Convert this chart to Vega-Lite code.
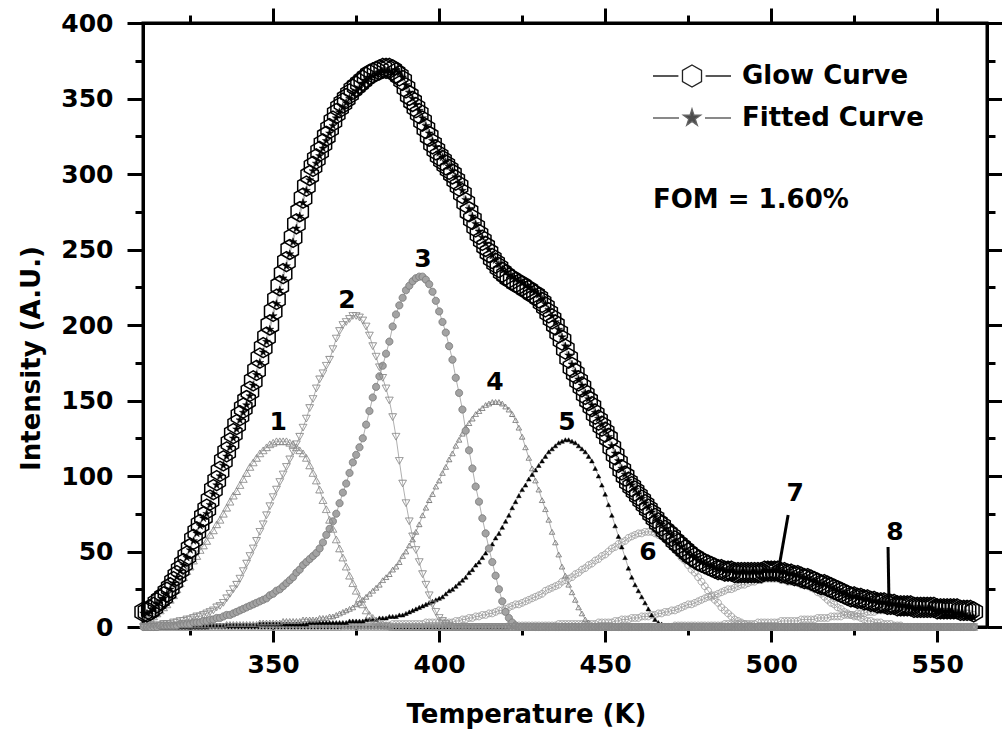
{
"$schema":"https://vega.github.io/schema/vega-lite/v6.json",
"width":844,"height":604,
"autosize":{"type":"none"},
"padding":{"left":143,"top":23,"right":15,"bottom":105},
"background":"white",
"config":{"view":{"stroke":"black","strokeWidth":3},"font":"DejaVu Sans"},
"datasets":{"tl":[
{"T":311,"g":10,"f":9,"p1":4,"p2":0,"p3":0,"p4":0,"p5":0,"p6":0,"p7":0,"p8":0},
{"T":312,"g":10,"f":9,"p1":5,"p2":0,"p3":0,"p4":0,"p5":0,"p6":0,"p7":0,"p8":0},
{"T":313,"g":11,"f":10,"p1":6,"p2":1,"p3":0,"p4":0,"p5":0,"p6":0,"p7":0,"p8":0},
{"T":314,"g":13,"f":12,"p1":7,"p2":1,"p3":0,"p4":0,"p5":0,"p6":0,"p7":0,"p8":0},
{"T":315,"g":16,"f":15,"p1":9,"p2":1,"p3":0,"p4":0,"p5":0,"p6":0,"p7":0,"p8":0},
{"T":316,"g":18,"f":17,"p1":11,"p2":1,"p3":1,"p4":0,"p5":0,"p6":0,"p7":0,"p8":0},
{"T":317,"g":20,"f":19,"p1":13,"p2":2,"p3":1,"p4":0,"p5":0,"p6":0,"p7":0,"p8":0},
{"T":318,"g":23,"f":22,"p1":15,"p2":2,"p3":1,"p4":0,"p5":0,"p6":0,"p7":0,"p8":0},
{"T":319,"g":26,"f":25,"p1":18,"p2":2,"p3":1,"p4":0,"p5":0,"p6":0,"p7":0,"p8":0},
{"T":320,"g":30,"f":29,"p1":21,"p2":3,"p3":1,"p4":0,"p5":0,"p6":0,"p7":0,"p8":0},
{"T":321,"g":34,"f":33,"p1":25,"p2":3,"p3":1,"p4":1,"p5":0,"p6":0,"p7":0,"p8":0},
{"T":322,"g":38,"f":37,"p1":29,"p2":4,"p3":2,"p4":1,"p5":0,"p6":0,"p7":0,"p8":0},
{"T":323,"g":42,"f":41,"p1":33,"p2":4,"p3":2,"p4":1,"p5":0,"p6":0,"p7":0,"p8":0},
{"T":324,"g":47,"f":46,"p1":37,"p2":5,"p3":2,"p4":1,"p5":0,"p6":0,"p7":0,"p8":0},
{"T":325,"g":52,"f":51,"p1":40,"p2":5,"p3":2,"p4":1,"p5":0,"p6":0,"p7":0,"p8":0},
{"T":326,"g":58,"f":57,"p1":44,"p2":6,"p3":3,"p4":1,"p5":0,"p6":0,"p7":0,"p8":0},
{"T":327,"g":63,"f":62,"p1":47,"p2":7,"p3":3,"p4":1,"p5":0,"p6":0,"p7":0,"p8":0},
{"T":328,"g":68,"f":67,"p1":51,"p2":7,"p3":3,"p4":1,"p5":0,"p6":0,"p7":0,"p8":0},
{"T":329,"g":73,"f":72,"p1":54,"p2":8,"p3":4,"p4":1,"p5":0,"p6":0,"p7":0,"p8":0},
{"T":330,"g":78,"f":75,"p1":57,"p2":9,"p3":4,"p4":1,"p5":0,"p6":0,"p7":0,"p8":0},
{"T":331,"g":84,"f":81,"p1":61,"p2":10,"p3":5,"p4":1,"p5":1,"p6":0,"p7":0,"p8":0},
{"T":332,"g":91,"f":88,"p1":64,"p2":11,"p3":5,"p4":1,"p5":1,"p6":0,"p7":0,"p8":0},
{"T":333,"g":97,"f":94,"p1":68,"p2":13,"p3":6,"p4":1,"p5":1,"p6":0,"p7":0,"p8":0},
{"T":334,"g":103,"f":100,"p1":71,"p2":14,"p3":6,"p4":1,"p5":1,"p6":0,"p7":0,"p8":0},
{"T":335,"g":110,"f":107,"p1":75,"p2":16,"p3":7,"p4":1,"p5":1,"p6":0,"p7":0,"p8":0},
{"T":336,"g":116,"f":113,"p1":79,"p2":19,"p3":8,"p4":2,"p5":1,"p6":0,"p7":0,"p8":0},
{"T":337,"g":122,"f":119,"p1":83,"p2":22,"p3":8,"p4":2,"p5":1,"p6":0,"p7":0,"p8":0},
{"T":338,"g":128,"f":125,"p1":87,"p2":25,"p3":9,"p4":2,"p5":1,"p6":0,"p7":0,"p8":0},
{"T":339,"g":134,"f":131,"p1":90,"p2":28,"p3":10,"p4":2,"p5":1,"p6":0,"p7":0,"p8":0},
{"T":340,"g":140,"f":137,"p1":94,"p2":32,"p3":11,"p4":2,"p5":1,"p6":0,"p7":0,"p8":0},
{"T":341,"g":145,"f":142,"p1":98,"p2":37,"p3":12,"p4":2,"p5":1,"p6":0,"p7":0,"p8":0},
{"T":342,"g":150,"f":147,"p1":102,"p2":42,"p3":13,"p4":2,"p5":1,"p6":0,"p7":0,"p8":0},
{"T":343,"g":156,"f":153,"p1":106,"p2":47,"p3":14,"p4":2,"p5":1,"p6":0,"p7":0,"p8":0},
{"T":344,"g":163,"f":160,"p1":109,"p2":52,"p3":15,"p4":2,"p5":1,"p6":0,"p7":0,"p8":0},
{"T":345,"g":170,"f":167,"p1":112,"p2":57,"p3":16,"p4":2,"p5":1,"p6":0,"p7":0,"p8":0},
{"T":346,"g":178,"f":175,"p1":115,"p2":63,"p3":17,"p4":3,"p5":2,"p6":0,"p7":0,"p8":0},
{"T":347,"g":185,"f":182,"p1":117,"p2":68,"p3":18,"p4":3,"p5":2,"p6":0,"p7":0,"p8":0},
{"T":348,"g":192,"f":189,"p1":119,"p2":74,"p3":19,"p4":3,"p5":2,"p6":0,"p7":0,"p8":0},
{"T":349,"g":200,"f":197,"p1":121,"p2":80,"p3":21,"p4":3,"p5":2,"p6":0,"p7":0,"p8":0},
{"T":350,"g":209,"f":206,"p1":122,"p2":86,"p3":22,"p4":3,"p5":2,"p6":0,"p7":0,"p8":0},
{"T":351,"g":217,"f":214,"p1":123,"p2":91,"p3":24,"p4":3,"p5":2,"p6":0,"p7":0,"p8":0},
{"T":352,"g":226,"f":223,"p1":123,"p2":96,"p3":25,"p4":3,"p5":2,"p6":0,"p7":0,"p8":0},
{"T":353,"g":234,"f":231,"p1":123,"p2":101,"p3":27,"p4":4,"p5":2,"p6":0,"p7":0,"p8":0},
{"T":354,"g":242,"f":239,"p1":123,"p2":106,"p3":29,"p4":4,"p5":2,"p6":0,"p7":0,"p8":0},
{"T":355,"g":250,"f":247,"p1":122,"p2":111,"p3":31,"p4":4,"p5":2,"p6":0,"p7":0,"p8":0},
{"T":356,"g":258,"f":255,"p1":121,"p2":116,"p3":33,"p4":4,"p5":2,"p6":0,"p7":0,"p8":0},
{"T":357,"g":267,"f":264,"p1":119,"p2":121,"p3":36,"p4":4,"p5":2,"p6":0,"p7":0,"p8":0},
{"T":358,"g":275,"f":272,"p1":117,"p2":126,"p3":38,"p4":4,"p5":2,"p6":0,"p7":0,"p8":0},
{"T":359,"g":284,"f":281,"p1":115,"p2":132,"p3":41,"p4":5,"p5":2,"p6":0,"p7":0,"p8":0},
{"T":360,"g":292,"f":289,"p1":112,"p2":138,"p3":43,"p4":5,"p5":2,"p6":0,"p7":0,"p8":0},
{"T":361,"g":299,"f":296,"p1":107,"p2":145,"p3":45,"p4":5,"p5":3,"p6":0,"p7":0,"p8":0},
{"T":362,"g":305,"f":302,"p1":102,"p2":151,"p3":47,"p4":5,"p5":3,"p6":0,"p7":0,"p8":0},
{"T":363,"g":310,"f":307,"p1":97,"p2":158,"p3":49,"p4":5,"p5":3,"p6":0,"p7":0,"p8":0},
{"T":364,"g":315,"f":312,"p1":91,"p2":164,"p3":52,"p4":6,"p5":3,"p6":0,"p7":0,"p8":0},
{"T":365,"g":320,"f":317,"p1":84,"p2":168,"p3":56,"p4":6,"p5":3,"p6":0,"p7":0,"p8":0},
{"T":366,"g":325,"f":322,"p1":78,"p2":173,"p3":61,"p4":6,"p5":3,"p6":0,"p7":0,"p8":0},
{"T":367,"g":330,"f":327,"p1":71,"p2":177,"p3":65,"p4":7,"p5":3,"p6":0,"p7":0,"p8":0},
{"T":368,"g":335,"f":332,"p1":65,"p2":184,"p3":70,"p4":7,"p5":3,"p6":0,"p7":0,"p8":0},
{"T":369,"g":340,"f":337,"p1":58,"p2":191,"p3":75,"p4":8,"p5":3,"p6":0,"p7":0,"p8":0},
{"T":370,"g":344,"f":341,"p1":52,"p2":196,"p3":82,"p4":9,"p5":3,"p6":0,"p7":0,"p8":0},
{"T":371,"g":347,"f":344,"p1":46,"p2":200,"p3":89,"p4":10,"p5":3,"p6":1,"p7":0,"p8":0},
{"T":372,"g":350,"f":347,"p1":40,"p2":202,"p3":95,"p4":11,"p5":3,"p6":1,"p7":0,"p8":0},
{"T":373,"g":353,"f":350,"p1":34,"p2":204,"p3":102,"p4":12,"p5":4,"p6":1,"p7":0,"p8":0},
{"T":374,"g":356,"f":353,"p1":29,"p2":206,"p3":109,"p4":13,"p5":4,"p6":1,"p7":0,"p8":0},
{"T":375,"g":358,"f":355,"p1":24,"p2":206,"p3":114,"p4":15,"p5":4,"p6":1,"p7":0,"p8":0},
{"T":376,"g":360,"f":357,"p1":19,"p2":205,"p3":119,"p4":16,"p5":4,"p6":1,"p7":0,"p8":0},
{"T":377,"g":362,"f":360,"p1":15,"p2":203,"p3":125,"p4":18,"p5":4,"p6":1,"p7":0,"p8":0},
{"T":378,"g":364,"f":362,"p1":11,"p2":199,"p3":134,"p4":20,"p5":5,"p6":1,"p7":0,"p8":0},
{"T":379,"g":366,"f":364,"p1":8,"p2":193,"p3":143,"p4":22,"p5":5,"p6":1,"p7":0,"p8":0},
{"T":380,"g":367,"f":365,"p1":6,"p2":186,"p3":152,"p4":24,"p5":5,"p6":1,"p7":0,"p8":0},
{"T":381,"g":368,"f":366,"p1":4,"p2":179,"p3":159,"p4":26,"p5":5,"p6":1,"p7":0,"p8":0},
{"T":382,"g":369,"f":367,"p1":3,"p2":172,"p3":166,"p4":28,"p5":6,"p6":1,"p7":0,"p8":0},
{"T":383,"g":370,"f":368,"p1":2,"p2":165,"p3":173,"p4":31,"p5":6,"p6":1,"p7":0,"p8":0},
{"T":384,"g":370,"f":368,"p1":1,"p2":158,"p3":181,"p4":33,"p5":6,"p6":1,"p7":0,"p8":0},
{"T":385,"g":370,"f":368,"p1":1,"p2":150,"p3":189,"p4":35,"p5":7,"p6":1,"p7":0,"p8":0},
{"T":386,"g":369,"f":367,"p1":0,"p2":139,"p3":199,"p4":38,"p5":7,"p6":2,"p7":0,"p8":0},
{"T":387,"g":367,"f":369,"p1":0,"p2":126,"p3":207,"p4":40,"p5":7,"p6":2,"p7":0,"p8":0},
{"T":388,"g":365,"f":367,"p1":0,"p2":110,"p3":213,"p4":43,"p5":8,"p6":2,"p7":0,"p8":0},
{"T":389,"g":362,"f":364,"p1":0,"p2":95,"p3":218,"p4":47,"p5":8,"p6":2,"p7":0,"p8":0},
{"T":390,"g":357,"f":359,"p1":0,"p2":82,"p3":223,"p4":50,"p5":9,"p6":2,"p7":0,"p8":0},
{"T":391,"g":352,"f":354,"p1":0,"p2":70,"p3":226,"p4":54,"p5":10,"p6":2,"p7":0,"p8":0},
{"T":392,"g":348,"f":350,"p1":0,"p2":60,"p3":229,"p4":58,"p5":11,"p6":2,"p7":0,"p8":0},
{"T":393,"g":344,"f":346,"p1":0,"p2":51,"p3":231,"p4":63,"p5":12,"p6":2,"p7":0,"p8":0},
{"T":394,"g":340,"f":342,"p1":0,"p2":43,"p3":232,"p4":68,"p5":13,"p6":2,"p7":0,"p8":0},
{"T":395,"g":335,"f":337,"p1":0,"p2":35,"p3":232,"p4":74,"p5":14,"p6":2,"p7":0,"p8":0},
{"T":396,"g":330,"f":332,"p1":0,"p2":28,"p3":230,"p4":79,"p5":15,"p6":3,"p7":0,"p8":0},
{"T":397,"g":325,"f":327,"p1":0,"p2":21,"p3":227,"p4":84,"p5":16,"p6":3,"p7":0,"p8":0},
{"T":398,"g":320,"f":322,"p1":0,"p2":15,"p3":222,"p4":88,"p5":17,"p6":3,"p7":0,"p8":0},
{"T":399,"g":316,"f":318,"p1":0,"p2":10,"p3":216,"p4":93,"p5":18,"p6":3,"p7":0,"p8":0},
{"T":400,"g":312,"f":314,"p1":0,"p2":6,"p3":209,"p4":97,"p5":19,"p6":3,"p7":0,"p8":0},
{"T":401,"g":309,"f":311,"p1":0,"p2":4,"p3":202,"p4":102,"p5":20,"p6":3,"p7":0,"p8":0},
{"T":402,"g":306,"f":308,"p1":0,"p2":2,"p3":195,"p4":106,"p5":22,"p6":3,"p7":0,"p8":0},
{"T":403,"g":303,"f":305,"p1":0,"p2":1,"p3":186,"p4":111,"p5":24,"p6":3,"p7":0,"p8":0},
{"T":404,"g":300,"f":302,"p1":0,"p2":0,"p3":177,"p4":115,"p5":25,"p6":3,"p7":0,"p8":0},
{"T":405,"g":296,"f":298,"p1":0,"p2":0,"p3":165,"p4":120,"p5":27,"p6":4,"p7":0,"p8":0},
{"T":406,"g":292,"f":294,"p1":0,"p2":0,"p3":155,"p4":124,"p5":29,"p6":4,"p7":0,"p8":0},
{"T":407,"g":287,"f":289,"p1":0,"p2":0,"p3":144,"p4":128,"p5":31,"p6":5,"p7":0,"p8":0},
{"T":408,"g":281,"f":283,"p1":0,"p2":0,"p3":130,"p4":132,"p5":33,"p6":5,"p7":0,"p8":0},
{"T":409,"g":275,"f":277,"p1":0,"p2":0,"p3":117,"p4":135,"p5":36,"p6":6,"p7":0,"p8":0},
{"T":410,"g":270,"f":272,"p1":0,"p2":0,"p3":105,"p4":138,"p5":38,"p6":6,"p7":0,"p8":0},
{"T":411,"g":265,"f":267,"p1":0,"p2":0,"p3":93,"p4":141,"p5":41,"p6":7,"p7":0,"p8":0},
{"T":412,"g":260,"f":262,"p1":0,"p2":0,"p3":83,"p4":143,"p5":43,"p6":7,"p7":0,"p8":0},
{"T":413,"g":256,"f":258,"p1":0,"p2":0,"p3":72,"p4":145,"p5":46,"p6":8,"p7":0,"p8":0},
{"T":414,"g":252,"f":254,"p1":0,"p2":0,"p3":62,"p4":147,"p5":49,"p6":8,"p7":0,"p8":0},
{"T":415,"g":248,"f":250,"p1":0,"p2":0,"p3":52,"p4":148,"p5":52,"p6":9,"p7":0,"p8":0},
{"T":416,"g":244,"f":246,"p1":0,"p2":0,"p3":43,"p4":149,"p5":55,"p6":9,"p7":0,"p8":0},
{"T":417,"g":241,"f":243,"p1":0,"p2":0,"p3":34,"p4":149,"p5":59,"p6":10,"p7":0,"p8":0},
{"T":418,"g":238,"f":240,"p1":0,"p2":0,"p3":25,"p4":149,"p5":62,"p6":11,"p7":0,"p8":0},
{"T":419,"g":235,"f":237,"p1":0,"p2":0,"p3":17,"p4":148,"p5":66,"p6":11,"p7":0,"p8":0},
{"T":420,"g":233,"f":235,"p1":0,"p2":0,"p3":10,"p4":146,"p5":70,"p6":12,"p7":0,"p8":0},
{"T":421,"g":231,"f":233,"p1":0,"p2":0,"p3":6,"p4":144,"p5":74,"p6":13,"p7":1,"p8":0},
{"T":422,"g":230,"f":232,"p1":0,"p2":0,"p3":3,"p4":141,"p5":79,"p6":14,"p7":1,"p8":0},
{"T":423,"g":228,"f":230,"p1":0,"p2":0,"p3":1,"p4":137,"p5":83,"p6":15,"p7":1,"p8":0},
{"T":424,"g":227,"f":229,"p1":0,"p2":0,"p3":0,"p4":132,"p5":87,"p6":15,"p7":1,"p8":0},
{"T":425,"g":226,"f":228,"p1":0,"p2":0,"p3":0,"p4":126,"p5":91,"p6":16,"p7":1,"p8":0},
{"T":426,"g":224,"f":226,"p1":0,"p2":0,"p3":0,"p4":119,"p5":94,"p6":17,"p7":1,"p8":0},
{"T":427,"g":223,"f":225,"p1":0,"p2":0,"p3":0,"p4":112,"p5":98,"p6":18,"p7":1,"p8":0},
{"T":428,"g":221,"f":223,"p1":0,"p2":0,"p3":0,"p4":105,"p5":101,"p6":19,"p7":1,"p8":0},
{"T":429,"g":220,"f":222,"p1":0,"p2":0,"p3":0,"p4":97,"p5":104,"p6":20,"p7":1,"p8":0},
{"T":430,"g":218,"f":220,"p1":0,"p2":0,"p3":0,"p4":91,"p5":107,"p6":21,"p7":1,"p8":0},
{"T":431,"g":215,"f":217,"p1":0,"p2":0,"p3":0,"p4":84,"p5":110,"p6":22,"p7":1,"p8":0},
{"T":432,"g":212,"f":214,"p1":0,"p2":0,"p3":0,"p4":78,"p5":113,"p6":24,"p7":1,"p8":0},
{"T":433,"g":208,"f":210,"p1":0,"p2":0,"p3":0,"p4":71,"p5":116,"p6":25,"p7":1,"p8":0},
{"T":434,"g":204,"f":206,"p1":0,"p2":0,"p3":0,"p4":63,"p5":118,"p6":26,"p7":1,"p8":0},
{"T":435,"g":200,"f":202,"p1":0,"p2":0,"p3":0,"p4":56,"p5":120,"p6":27,"p7":1,"p8":0},
{"T":436,"g":195,"f":197,"p1":0,"p2":0,"p3":0,"p4":48,"p5":122,"p6":28,"p7":2,"p8":0},
{"T":437,"g":190,"f":192,"p1":0,"p2":0,"p3":0,"p4":40,"p5":123,"p6":30,"p7":2,"p8":0},
{"T":438,"g":184,"f":186,"p1":0,"p2":0,"p3":0,"p4":34,"p5":124,"p6":31,"p7":2,"p8":0},
{"T":439,"g":178,"f":180,"p1":0,"p2":0,"p3":0,"p4":28,"p5":124,"p6":32,"p7":2,"p8":0},
{"T":440,"g":172,"f":174,"p1":0,"p2":0,"p3":0,"p4":23,"p5":123,"p6":33,"p7":2,"p8":0},
{"T":441,"g":168,"f":169,"p1":0,"p2":0,"p3":0,"p4":18,"p5":122,"p6":35,"p7":2,"p8":0},
{"T":442,"g":163,"f":164,"p1":0,"p2":0,"p3":0,"p4":13,"p5":120,"p6":36,"p7":2,"p8":0},
{"T":443,"g":159,"f":160,"p1":0,"p2":0,"p3":0,"p4":9,"p5":118,"p6":38,"p7":2,"p8":0},
{"T":444,"g":154,"f":155,"p1":0,"p2":0,"p3":0,"p4":5,"p5":116,"p6":39,"p7":2,"p8":0},
{"T":445,"g":150,"f":151,"p1":0,"p2":0,"p3":0,"p4":3,"p5":113,"p6":41,"p7":2,"p8":0},
{"T":446,"g":146,"f":147,"p1":0,"p2":0,"p3":0,"p4":1,"p5":110,"p6":42,"p7":2,"p8":0},
{"T":447,"g":141,"f":142,"p1":0,"p2":0,"p3":0,"p4":0,"p5":105,"p6":44,"p7":2,"p8":0},
{"T":448,"g":137,"f":138,"p1":0,"p2":0,"p3":0,"p4":0,"p5":100,"p6":45,"p7":3,"p8":0},
{"T":449,"g":133,"f":134,"p1":0,"p2":0,"p3":0,"p4":0,"p5":94,"p6":47,"p7":3,"p8":0},
{"T":450,"g":129,"f":130,"p1":0,"p2":0,"p3":0,"p4":0,"p5":88,"p6":48,"p7":3,"p8":0},
{"T":451,"g":125,"f":126,"p1":0,"p2":0,"p3":0,"p4":0,"p5":81,"p6":50,"p7":3,"p8":0},
{"T":452,"g":119,"f":120,"p1":0,"p2":0,"p3":0,"p4":0,"p5":74,"p6":52,"p7":3,"p8":0},
{"T":453,"g":114,"f":115,"p1":0,"p2":0,"p3":0,"p4":0,"p5":67,"p6":53,"p7":4,"p8":0},
{"T":454,"g":109,"f":110,"p1":0,"p2":0,"p3":0,"p4":0,"p5":60,"p6":55,"p7":4,"p8":0},
{"T":455,"g":104,"f":105,"p1":0,"p2":0,"p3":0,"p4":0,"p5":53,"p6":56,"p7":5,"p8":0},
{"T":456,"g":100,"f":101,"p1":0,"p2":0,"p3":0,"p4":0,"p5":46,"p6":57,"p7":5,"p8":0},
{"T":457,"g":96,"f":97,"p1":0,"p2":0,"p3":0,"p4":0,"p5":39,"p6":59,"p7":5,"p8":0},
{"T":458,"g":93,"f":94,"p1":0,"p2":0,"p3":0,"p4":0,"p5":33,"p6":60,"p7":6,"p8":0},
{"T":459,"g":90,"f":91,"p1":0,"p2":0,"p3":0,"p4":0,"p5":28,"p6":61,"p7":6,"p8":0},
{"T":460,"g":87,"f":88,"p1":0,"p2":0,"p3":0,"p4":0,"p5":24,"p6":62,"p7":6,"p8":0},
{"T":461,"g":84,"f":85,"p1":0,"p2":0,"p3":0,"p4":0,"p5":20,"p6":62,"p7":7,"p8":0},
{"T":462,"g":81,"f":82,"p1":0,"p2":0,"p3":0,"p4":0,"p5":16,"p6":63,"p7":7,"p8":0},
{"T":463,"g":78,"f":79,"p1":0,"p2":0,"p3":0,"p4":0,"p5":12,"p6":63,"p7":7,"p8":0},
{"T":464,"g":75,"f":76,"p1":0,"p2":0,"p3":0,"p4":0,"p5":8,"p6":63,"p7":8,"p8":0},
{"T":465,"g":72,"f":73,"p1":0,"p2":0,"p3":0,"p4":0,"p5":5,"p6":62,"p7":8,"p8":0},
{"T":466,"g":69,"f":70,"p1":0,"p2":0,"p3":0,"p4":0,"p5":3,"p6":61,"p7":9,"p8":0},
{"T":467,"g":67,"f":68,"p1":0,"p2":0,"p3":0,"p4":0,"p5":2,"p6":60,"p7":9,"p8":0},
{"T":468,"g":64,"f":65,"p1":0,"p2":0,"p3":0,"p4":0,"p5":1,"p6":58,"p7":10,"p8":0},
{"T":469,"g":62,"f":63,"p1":0,"p2":0,"p3":0,"p4":0,"p5":0,"p6":56,"p7":10,"p8":0},
{"T":470,"g":60,"f":61,"p1":0,"p2":0,"p3":0,"p4":0,"p5":0,"p6":54,"p7":11,"p8":0},
{"T":471,"g":57,"f":57,"p1":0,"p2":0,"p3":0,"p4":0,"p5":0,"p6":51,"p7":11,"p8":1},
{"T":472,"g":55,"f":55,"p1":0,"p2":0,"p3":0,"p4":0,"p5":0,"p6":49,"p7":12,"p8":1},
{"T":473,"g":53,"f":53,"p1":0,"p2":0,"p3":0,"p4":0,"p5":0,"p6":46,"p7":13,"p8":1},
{"T":474,"g":51,"f":51,"p1":0,"p2":0,"p3":0,"p4":0,"p5":0,"p6":44,"p7":14,"p8":1},
{"T":475,"g":49,"f":49,"p1":0,"p2":0,"p3":0,"p4":0,"p5":0,"p6":41,"p7":15,"p8":1},
{"T":476,"g":47,"f":47,"p1":0,"p2":0,"p3":0,"p4":0,"p5":0,"p6":38,"p7":15,"p8":1},
{"T":477,"g":46,"f":46,"p1":0,"p2":0,"p3":0,"p4":0,"p5":0,"p6":36,"p7":16,"p8":1},
{"T":478,"g":44,"f":44,"p1":0,"p2":0,"p3":0,"p4":0,"p5":0,"p6":33,"p7":17,"p8":1},
{"T":479,"g":43,"f":43,"p1":0,"p2":0,"p3":0,"p4":0,"p5":0,"p6":30,"p7":18,"p8":1},
{"T":480,"g":42,"f":42,"p1":0,"p2":0,"p3":0,"p4":0,"p5":0,"p6":27,"p7":19,"p8":1},
{"T":481,"g":41,"f":41,"p1":0,"p2":0,"p3":0,"p4":0,"p5":0,"p6":24,"p7":20,"p8":1},
{"T":482,"g":40,"f":40,"p1":0,"p2":0,"p3":0,"p4":0,"p5":0,"p6":21,"p7":20,"p8":1},
{"T":483,"g":39,"f":39,"p1":0,"p2":0,"p3":0,"p4":0,"p5":0,"p6":18,"p7":21,"p8":1},
{"T":484,"g":38,"f":38,"p1":0,"p2":0,"p3":0,"p4":0,"p5":0,"p6":16,"p7":22,"p8":1},
{"T":485,"g":38,"f":38,"p1":0,"p2":0,"p3":0,"p4":0,"p5":0,"p6":13,"p7":23,"p8":1},
{"T":486,"g":37,"f":37,"p1":0,"p2":0,"p3":0,"p4":0,"p5":0,"p6":11,"p7":24,"p8":2},
{"T":487,"g":37,"f":37,"p1":0,"p2":0,"p3":0,"p4":0,"p5":0,"p6":9,"p7":25,"p8":2},
{"T":488,"g":37,"f":37,"p1":0,"p2":0,"p3":0,"p4":0,"p5":0,"p6":7,"p7":25,"p8":2},
{"T":489,"g":36,"f":36,"p1":0,"p2":0,"p3":0,"p4":0,"p5":0,"p6":5,"p7":26,"p8":2},
{"T":490,"g":36,"f":36,"p1":0,"p2":0,"p3":0,"p4":0,"p5":0,"p6":4,"p7":27,"p8":2},
{"T":491,"g":36,"f":36,"p1":0,"p2":0,"p3":0,"p4":0,"p5":0,"p6":3,"p7":28,"p8":2},
{"T":492,"g":36,"f":36,"p1":0,"p2":0,"p3":0,"p4":0,"p5":0,"p6":2,"p7":28,"p8":2},
{"T":493,"g":36,"f":36,"p1":0,"p2":0,"p3":0,"p4":0,"p5":0,"p6":1,"p7":29,"p8":2},
{"T":494,"g":36,"f":36,"p1":0,"p2":0,"p3":0,"p4":0,"p5":0,"p6":1,"p7":30,"p8":2},
{"T":495,"g":36,"f":36,"p1":0,"p2":0,"p3":0,"p4":0,"p5":0,"p6":0,"p7":30,"p8":2},
{"T":496,"g":36,"f":36,"p1":0,"p2":0,"p3":0,"p4":0,"p5":0,"p6":0,"p7":31,"p8":3},
{"T":497,"g":36,"f":36,"p1":0,"p2":0,"p3":0,"p4":0,"p5":0,"p6":0,"p7":31,"p8":3},
{"T":498,"g":37,"f":37,"p1":0,"p2":0,"p3":0,"p4":0,"p5":0,"p6":0,"p7":32,"p8":3},
{"T":499,"g":37,"f":37,"p1":0,"p2":0,"p3":0,"p4":0,"p5":0,"p6":0,"p7":32,"p8":3},
{"T":500,"g":37,"f":37,"p1":0,"p2":0,"p3":0,"p4":0,"p5":0,"p6":0,"p7":32,"p8":3},
{"T":501,"g":37,"f":37,"p1":0,"p2":0,"p3":0,"p4":0,"p5":0,"p6":0,"p7":32,"p8":3},
{"T":502,"g":37,"f":37,"p1":0,"p2":0,"p3":0,"p4":0,"p5":0,"p6":0,"p7":32,"p8":3},
{"T":503,"g":36,"f":36,"p1":0,"p2":0,"p3":0,"p4":0,"p5":0,"p6":0,"p7":31,"p8":4},
{"T":504,"g":36,"f":36,"p1":0,"p2":0,"p3":0,"p4":0,"p5":0,"p6":0,"p7":31,"p8":4},
{"T":505,"g":35,"f":35,"p1":0,"p2":0,"p3":0,"p4":0,"p5":0,"p6":0,"p7":30,"p8":4},
{"T":506,"g":35,"f":35,"p1":0,"p2":0,"p3":0,"p4":0,"p5":0,"p6":0,"p7":30,"p8":4},
{"T":507,"g":34,"f":34,"p1":0,"p2":0,"p3":0,"p4":0,"p5":0,"p6":0,"p7":30,"p8":4},
{"T":508,"g":34,"f":34,"p1":0,"p2":0,"p3":0,"p4":0,"p5":0,"p6":0,"p7":29,"p8":4},
{"T":509,"g":33,"f":33,"p1":0,"p2":0,"p3":0,"p4":0,"p5":0,"p6":0,"p7":28,"p8":5},
{"T":510,"g":32,"f":32,"p1":0,"p2":0,"p3":0,"p4":0,"p5":0,"p6":0,"p7":28,"p8":5},
{"T":511,"g":32,"f":32,"p1":0,"p2":0,"p3":0,"p4":0,"p5":0,"p6":0,"p7":27,"p8":5},
{"T":512,"g":31,"f":31,"p1":0,"p2":0,"p3":0,"p4":0,"p5":0,"p6":0,"p7":26,"p8":5},
{"T":513,"g":30,"f":30,"p1":0,"p2":0,"p3":0,"p4":0,"p5":0,"p6":0,"p7":25,"p8":5},
{"T":514,"g":29,"f":29,"p1":0,"p2":0,"p3":0,"p4":0,"p5":0,"p6":0,"p7":23,"p8":6},
{"T":515,"g":28,"f":28,"p1":0,"p2":0,"p3":0,"p4":0,"p5":0,"p6":0,"p7":22,"p8":6},
{"T":516,"g":28,"f":28,"p1":0,"p2":0,"p3":0,"p4":0,"p5":0,"p6":0,"p7":20,"p8":6},
{"T":517,"g":27,"f":27,"p1":0,"p2":0,"p3":0,"p4":0,"p5":0,"p6":0,"p7":18,"p8":6},
{"T":518,"g":26,"f":26,"p1":0,"p2":0,"p3":0,"p4":0,"p5":0,"p6":0,"p7":16,"p8":7},
{"T":519,"g":25,"f":25,"p1":0,"p2":0,"p3":0,"p4":0,"p5":0,"p6":0,"p7":15,"p8":7},
{"T":520,"g":24,"f":24,"p1":0,"p2":0,"p3":0,"p4":0,"p5":0,"p6":0,"p7":13,"p8":7},
{"T":521,"g":23,"f":23,"p1":0,"p2":0,"p3":0,"p4":0,"p5":0,"p6":0,"p7":12,"p8":7},
{"T":522,"g":22,"f":22,"p1":0,"p2":0,"p3":0,"p4":0,"p5":0,"p6":0,"p7":10,"p8":8},
{"T":523,"g":21,"f":21,"p1":0,"p2":0,"p3":0,"p4":0,"p5":0,"p6":0,"p7":9,"p8":8},
{"T":524,"g":20,"f":20,"p1":0,"p2":0,"p3":0,"p4":0,"p5":0,"p6":0,"p7":8,"p8":8},
{"T":525,"g":20,"f":20,"p1":0,"p2":0,"p3":0,"p4":0,"p5":0,"p6":0,"p7":7,"p8":8},
{"T":526,"g":19,"f":19,"p1":0,"p2":0,"p3":0,"p4":0,"p5":0,"p6":0,"p7":7,"p8":9},
{"T":527,"g":19,"f":19,"p1":0,"p2":0,"p3":0,"p4":0,"p5":0,"p6":0,"p7":6,"p8":9},
{"T":528,"g":18,"f":18,"p1":0,"p2":0,"p3":0,"p4":0,"p5":0,"p6":0,"p7":5,"p8":9},
{"T":529,"g":18,"f":18,"p1":0,"p2":0,"p3":0,"p4":0,"p5":0,"p6":0,"p7":4,"p8":10},
{"T":530,"g":17,"f":17,"p1":0,"p2":0,"p3":0,"p4":0,"p5":0,"p6":0,"p7":4,"p8":10},
{"T":531,"g":17,"f":17,"p1":0,"p2":0,"p3":0,"p4":0,"p5":0,"p6":0,"p7":3,"p8":10},
{"T":532,"g":16,"f":16,"p1":0,"p2":0,"p3":0,"p4":0,"p5":0,"p6":0,"p7":3,"p8":11},
{"T":533,"g":16,"f":16,"p1":0,"p2":0,"p3":0,"p4":0,"p5":0,"p6":0,"p7":3,"p8":11},
{"T":534,"g":16,"f":16,"p1":0,"p2":0,"p3":0,"p4":0,"p5":0,"p6":0,"p7":2,"p8":11},
{"T":535,"g":15,"f":15,"p1":0,"p2":0,"p3":0,"p4":0,"p5":0,"p6":0,"p7":2,"p8":11},
{"T":536,"g":15,"f":15,"p1":0,"p2":0,"p3":0,"p4":0,"p5":0,"p6":0,"p7":2,"p8":12},
{"T":537,"g":15,"f":15,"p1":0,"p2":0,"p3":0,"p4":0,"p5":0,"p6":0,"p7":1,"p8":12},
{"T":538,"g":14,"f":14,"p1":0,"p2":0,"p3":0,"p4":0,"p5":0,"p6":0,"p7":1,"p8":12},
{"T":539,"g":14,"f":14,"p1":0,"p2":0,"p3":0,"p4":0,"p5":0,"p6":0,"p7":1,"p8":12},
{"T":540,"g":14,"f":14,"p1":0,"p2":0,"p3":0,"p4":0,"p5":0,"p6":0,"p7":0,"p8":12},
{"T":541,"g":14,"f":13,"p1":0,"p2":0,"p3":0,"p4":0,"p5":0,"p6":0,"p7":0,"p8":12},
{"T":542,"g":14,"f":13,"p1":0,"p2":0,"p3":0,"p4":0,"p5":0,"p6":0,"p7":0,"p8":12},
{"T":543,"g":13,"f":12,"p1":0,"p2":0,"p3":0,"p4":0,"p5":0,"p6":0,"p7":0,"p8":12},
{"T":544,"g":13,"f":12,"p1":0,"p2":0,"p3":0,"p4":0,"p5":0,"p6":0,"p7":0,"p8":12},
{"T":545,"g":13,"f":12,"p1":0,"p2":0,"p3":0,"p4":0,"p5":0,"p6":0,"p7":0,"p8":11},
{"T":546,"g":13,"f":12,"p1":0,"p2":0,"p3":0,"p4":0,"p5":0,"p6":0,"p7":0,"p8":11},
{"T":547,"g":13,"f":12,"p1":0,"p2":0,"p3":0,"p4":0,"p5":0,"p6":0,"p7":0,"p8":11},
{"T":548,"g":13,"f":12,"p1":0,"p2":0,"p3":0,"p4":0,"p5":0,"p6":0,"p7":0,"p8":11},
{"T":549,"g":13,"f":11,"p1":0,"p2":0,"p3":0,"p4":0,"p5":0,"p6":0,"p7":0,"p8":11},
{"T":550,"g":12,"f":10,"p1":0,"p2":0,"p3":0,"p4":0,"p5":0,"p6":0,"p7":0,"p8":11},
{"T":551,"g":12,"f":10,"p1":0,"p2":0,"p3":0,"p4":0,"p5":0,"p6":0,"p7":0,"p8":10},
{"T":552,"g":12,"f":10,"p1":0,"p2":0,"p3":0,"p4":0,"p5":0,"p6":0,"p7":0,"p8":10},
{"T":553,"g":12,"f":10,"p1":0,"p2":0,"p3":0,"p4":0,"p5":0,"p6":0,"p7":0,"p8":10},
{"T":554,"g":12,"f":10,"p1":0,"p2":0,"p3":0,"p4":0,"p5":0,"p6":0,"p7":0,"p8":10},
{"T":555,"g":12,"f":9,"p1":0,"p2":0,"p3":0,"p4":0,"p5":0,"p6":0,"p7":0,"p8":10},
{"T":556,"g":12,"f":9,"p1":0,"p2":0,"p3":0,"p4":0,"p5":0,"p6":0,"p7":0,"p8":9},
{"T":557,"g":11,"f":8,"p1":0,"p2":0,"p3":0,"p4":0,"p5":0,"p6":0,"p7":0,"p8":9},
{"T":558,"g":11,"f":8,"p1":0,"p2":0,"p3":0,"p4":0,"p5":0,"p6":0,"p7":0,"p8":9},
{"T":559,"g":11,"f":7,"p1":0,"p2":0,"p3":0,"p4":0,"p5":0,"p6":0,"p7":0,"p8":9},
{"T":560,"g":11,"f":7,"p1":0,"p2":0,"p3":0,"p4":0,"p5":0,"p6":0,"p7":0,"p8":8},
{"T":561,"g":10,"f":6,"p1":0,"p2":0,"p3":0,"p4":0,"p5":0,"p6":0,"p7":0,"p8":8}
]},
"layer":[
{"data":{"name":"tl"},
 "transform":[{"fold":["g","f","p1","p2","p3","p4","p5","p6","p7","p8"],"as":["k","v"]}],
 "mark":{"type":"line","stroke":"#9a9a9a","strokeWidth":0.8},
 "encoding":{
  "x":{"field":"T","type":"quantitative","scale":{"domain":[310.8,565],"nice":false,"zero":false},
   "axis":{"orient":"top","values":[325,350,375,400,425,450,475,500,525,550],"labels":false,"title":null,"grid":false,
    "tickSize":{"condition":{"test":"datum.value % 50 !== 0","value":8},"value":15},"tickWidth":3,"tickColor":"black","domainColor":"black","domainWidth":3}},
  "y":{"field":"v","type":"quantitative","scale":{"domain":[0,400],"nice":false,"zero":true},
   "axis":{"orient":"right","values":[0,25,50,75,100,125,150,175,200,225,250,275,300,325,350,375,400],"labels":false,"title":null,"grid":false,
    "tickSize":{"condition":{"test":"datum.value % 50 !== 0","value":8},"value":15},"tickWidth":3,"tickColor":"black","domainColor":"black","domainWidth":3}},
  "detail":{"field":"k","type":"nominal"}
 }},
{"data":{"name":"tl"},
 "transform":[{"fold":["g","f","p1","p2","p3","p4","p5","p6","p7","p8"],"as":["k","v"]}],
 "mark":{"type":"point","filled":true},
 "encoding":{
  "x":{"field":"T","type":"quantitative","scale":{"domain":[310.8,565],"nice":false,"zero":false},
   "axis":{"orient":"bottom","values":[325,350,375,400,425,450,475,500,525,550],"labelExpr":"datum.value % 50 === 0 ? datum.label : ''","grid":false,
    "title":"Temperature (K)","titleFont":"DejaVu Sans","titleFontSize":26,"titleFontWeight":"bold","titleColor":"black","titleX":383,"titleY":95,"titleBaseline":"alphabetic","titleAlign":"center",
    "labelFont":"DejaVu Sans","labelFontSize":25,"labelFontWeight":"bold","labelColor":"black","labelPadding":10,"labelFlush":false,"labelOverlap":false,
    "tickSize":{"condition":{"test":"datum.value % 50 !== 0","value":8},"value":15},"tickWidth":3,"tickColor":"black","domainColor":"black","domainWidth":3}},
  "y":{"field":"v","type":"quantitative","scale":{"domain":[0,400],"nice":false,"zero":true},
   "axis":{"orient":"left","values":[0,25,50,75,100,125,150,175,200,225,250,275,300,325,350,375,400],"labelExpr":"datum.value % 50 === 0 ? datum.label : ''","grid":false,
    "title":"Intensity (A.U.)","titleFont":"DejaVu Sans","titleFontSize":26,"titleFontWeight":"bold","titleColor":"black","titleX":-99,"titleY":335,"titleAngle":270,"titleBaseline":"bottom","titleAlign":"center",
    "labelFont":"DejaVu Sans","labelFontSize":25,"labelFontWeight":"bold","labelColor":"black","labelPadding":14,"labelFlush":false,"labelOverlap":false,
    "tickSize":{"condition":{"test":"datum.value % 50 !== 0","value":8},"value":16},"tickWidth":3,"tickColor":"black","domainColor":"black","domainWidth":3}},
  "shape":{"field":"k","type":"nominal","legend":null,
   "scale":{"domain":["g","f","p1","p2","p3","p4","p5","p6","p7","p8"],
    "range":["M0,-1L0.866,-0.5L0.866,0.5L0,1L-0.866,0.5L-0.866,-0.5Z","M0,-1L0.223,-0.307L0.951,-0.309L0.361,0.117L0.588,0.809L0,0.38L-0.588,0.809L-0.361,0.117L-0.951,-0.309L-0.223,-0.307Z","triangle-up","triangle-down","circle","triangle-up","triangle-up","circle","circle","circle"]}},
  "fill":{"field":"k","type":"nominal","legend":null,
   "scale":{"domain":["g","f","p1","p2","p3","p4","p5","p6","p7","p8"],
    "range":["transparent","black","transparent","transparent","#a3a3a3","transparent","black","transparent","transparent","transparent"]}},
  "stroke":{"field":"k","type":"nominal","legend":null,
   "scale":{"domain":["g","f","p1","p2","p3","p4","p5","p6","p7","p8"],
    "range":["black","black","#8a8a8a","#8a8a8a","#7c7c7c","#7a7a7a","black","#9c9c9c","#9c9c9c","#9c9c9c"]}},
  "size":{"field":"k","type":"nominal","legend":null,
   "scale":{"type":"ordinal","domain":["f","g","p1","p2","p3","p4","p5","p6","p7","p8"],
    "range":[70,400,60,60,50,30,22,45,45,45]}},
  "strokeWidth":{"field":"k","type":"nominal","legend":null,
   "scale":{"type":"ordinal","domain":["f","g","p1","p2","p3","p4","p5","p6","p7","p8"],
    "range":[0.5,1.5,1,1,1,1,0.5,1,1,1]}},
  "opacity":{"field":"k","type":"nominal",
   "scale":{"type":"ordinal","domain":["p1","g","f","p2","p3","p4","p5","p6","p7","p8"],"range":[1,1,1,1,1,1,1,1,1,1]},
   "legend":{"values":["g"],"labelExpr":"'Glow Curve'","title":null,"orient":"none","legendX":528,"legendY":32,
    "symbolType":"M-1.95,0L-0.68,0M0.68,0L1.95,0M0,-0.55L0.476,-0.275L0.476,0.275L0,0.55L-0.476,0.275L-0.476,-0.275Z",
    "symbolSize":1600,"symbolFillColor":"transparent","symbolStrokeColor":"#222222","symbolStrokeWidth":1.3,
    "labelOffset":29,"padding":0,"labelLimit":400,"labelFont":"DejaVu Sans","labelFontSize":26,"labelFontWeight":"bold","labelColor":"black","labelBaseline":"middle"}},
  "strokeDash":{"datum":"Fitted Curve",
   "scale":{"domain":["Fitted Curve"],"range":[[1,0]]},
   "legend":{"title":null,"orient":"none","legendX":528,"legendY":74,
    "symbolType":"M-1.95,0L-0.65,0M0.65,0L1.95,0M0,-0.45L0.1,-0.138L0.428,-0.139L0.162,0.053L0.265,0.364L0,0.171L-0.265,0.364L-0.162,0.053L-0.428,-0.139L-0.1,-0.138Z",
    "symbolSize":1600,"symbolFillColor":"black","symbolStrokeColor":"#222222","symbolStrokeWidth":1.3,
    "labelOffset":29,"padding":0,"labelLimit":400,"labelFont":"DejaVu Sans","labelFontSize":26,"labelFontWeight":"bold","labelColor":"black","labelBaseline":"middle",
    "encode":{"symbols":{"fill":{"value":"black"},"opacity":{"value":1},"strokeDash":{"value":[1,0]}}}}},
  "order":{"field":"k","sort":"descending"}
 }},
{"data":{"values":[{}]},"mark":{"type":"text","font":"DejaVu Sans","fontSize":25,"fontWeight":"bold","color":"black","align":"center","baseline":"middle"},
 "encoding":{"x":{"datum":351.5,"type":"quantitative","axis":null,"scale":{"domain":[310.8,565],"nice":false,"zero":false}},"y":{"datum":136,"type":"quantitative","axis":null,"scale":{"domain":[0,400],"nice":false}},"text":{"value":"1"}}},
{"data":{"values":[{}]},"mark":{"type":"text","font":"DejaVu Sans","fontSize":25,"fontWeight":"bold","color":"black","align":"center","baseline":"middle"},
 "encoding":{"x":{"datum":372.2,"type":"quantitative","axis":null,"scale":{"domain":[310.8,565],"nice":false,"zero":false}},"y":{"datum":216.6,"type":"quantitative","axis":null,"scale":{"domain":[0,400],"nice":false}},"text":{"value":"2"}}},
{"data":{"values":[{}]},"mark":{"type":"text","font":"DejaVu Sans","fontSize":25,"fontWeight":"bold","color":"black","align":"center","baseline":"middle"},
 "encoding":{"x":{"datum":395.1,"type":"quantitative","axis":null,"scale":{"domain":[310.8,565],"nice":false,"zero":false}},"y":{"datum":244,"type":"quantitative","axis":null,"scale":{"domain":[0,400],"nice":false}},"text":{"value":"3"}}},
{"data":{"values":[{}]},"mark":{"type":"text","font":"DejaVu Sans","fontSize":25,"fontWeight":"bold","color":"black","align":"center","baseline":"middle"},
 "encoding":{"x":{"datum":416.8,"type":"quantitative","axis":null,"scale":{"domain":[310.8,565],"nice":false,"zero":false}},"y":{"datum":162,"type":"quantitative","axis":null,"scale":{"domain":[0,400],"nice":false}},"text":{"value":"4"}}},
{"data":{"values":[{}]},"mark":{"type":"text","font":"DejaVu Sans","fontSize":25,"fontWeight":"bold","color":"black","align":"center","baseline":"middle"},
 "encoding":{"x":{"datum":438.5,"type":"quantitative","axis":null,"scale":{"domain":[310.8,565],"nice":false,"zero":false}},"y":{"datum":136,"type":"quantitative","axis":null,"scale":{"domain":[0,400],"nice":false}},"text":{"value":"5"}}},
{"data":{"values":[{}]},"mark":{"type":"text","font":"DejaVu Sans","fontSize":25,"fontWeight":"bold","color":"black","align":"center","baseline":"middle"},
 "encoding":{"x":{"datum":462.9,"type":"quantitative","axis":null,"scale":{"domain":[310.8,565],"nice":false,"zero":false}},"y":{"datum":49.7,"type":"quantitative","axis":null,"scale":{"domain":[0,400],"nice":false}},"text":{"value":"6"}}},
{"data":{"values":[{}]},"mark":{"type":"text","font":"DejaVu Sans","fontSize":25,"fontWeight":"bold","color":"black","align":"center","baseline":"middle"},
 "encoding":{"x":{"datum":507.2,"type":"quantitative","axis":null,"scale":{"domain":[310.8,565],"nice":false,"zero":false}},"y":{"datum":89,"type":"quantitative","axis":null,"scale":{"domain":[0,400],"nice":false}},"text":{"value":"7"}}},
{"data":{"values":[{}]},"mark":{"type":"text","font":"DejaVu Sans","fontSize":25,"fontWeight":"bold","color":"black","align":"center","baseline":"middle"},
 "encoding":{"x":{"datum":537.3,"type":"quantitative","axis":null,"scale":{"domain":[310.8,565],"nice":false,"zero":false}},"y":{"datum":63,"type":"quantitative","axis":null,"scale":{"domain":[0,400],"nice":false}},"text":{"value":"8"}}},
{"data":{"values":[{}]},"mark":{"type":"text","font":"DejaVu Sans","fontSize":26,"fontWeight":"bold","color":"black","align":"left","baseline":"alphabetic"},
 "encoding":{"x":{"datum":464.4,"type":"quantitative","axis":null,"scale":{"domain":[310.8,565],"nice":false,"zero":false}},"y":{"datum":277.5,"type":"quantitative","axis":null,"scale":{"domain":[0,400],"nice":false}},"text":{"value":"FOM = 1.60%"}}},
{"data":{"values":[{}]},"mark":{"type":"rule","strokeWidth":3,"color":"black"},
 "encoding":{"x":{"datum":505.1,"type":"quantitative","axis":null,"scale":{"domain":[310.8,565],"nice":false,"zero":false}},"y":{"datum":74.2,"type":"quantitative","axis":null,"scale":{"domain":[0,400],"nice":false}},"x2":{"datum":502.1},"y2":{"datum":36.4}}},
{"data":{"values":[{}]},"mark":{"type":"rule","strokeWidth":3,"color":"black"},
 "encoding":{"x":{"datum":535.2,"type":"quantitative","axis":null,"scale":{"domain":[310.8,565],"nice":false,"zero":false}},"y":{"datum":53,"type":"quantitative","axis":null,"scale":{"domain":[0,400],"nice":false}},"x2":{"datum":535.5},"y2":{"datum":13.2}}}
]
}
